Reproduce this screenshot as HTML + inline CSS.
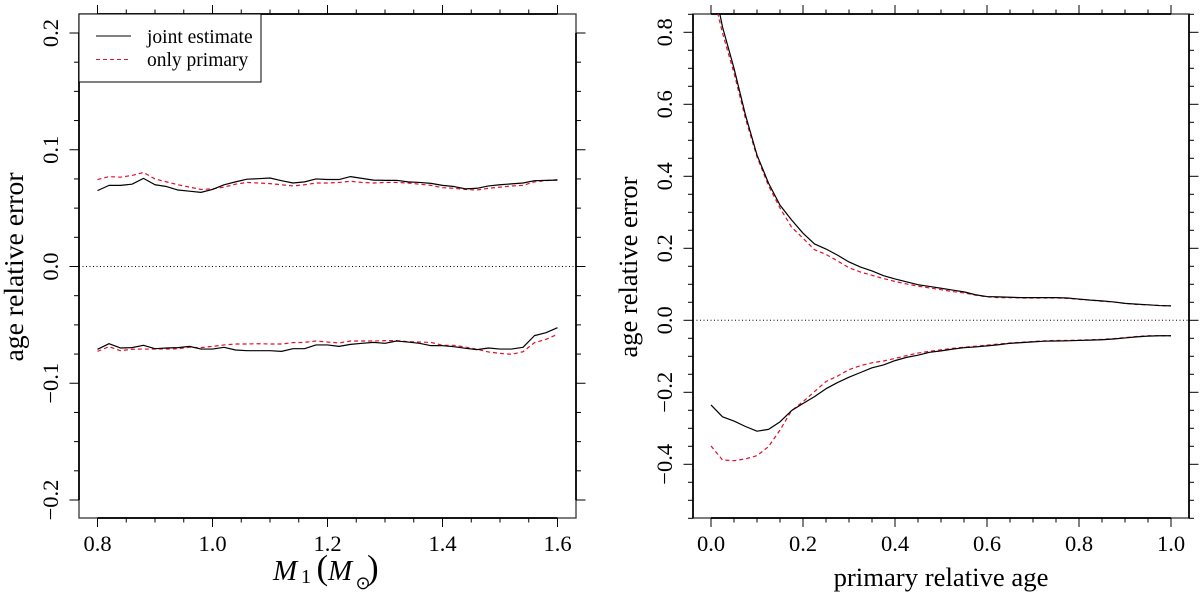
<!DOCTYPE html>
<html>
<head>
<meta charset="utf-8">
<title>Age relative error</title>
<style>
html,body{margin:0;padding:0;background:#fff;}
svg{display:block;}
text{font-family:"Liberation Serif",serif;fill:#000;}
</style>
</head>
<body>
<svg id="chart" xmlns="http://www.w3.org/2000/svg" width="1200" height="594" viewBox="0 0 1200 594">
  <defs>
    <clipPath id="clip-right"><rect x="693" y="14" width="496" height="504"></rect></clipPath>
  </defs>
  <rect width="1200" height="594" fill="#fff"></rect>
  <g id="left-panel"></g>
  <g id="right-panel"></g>

  <g>
    <rect x="79" y="14" width="182" height="68" fill="#fff" stroke="#000" stroke-width="1"></rect>
    <line x1="96" x2="131" y1="36" y2="36" stroke="#000" stroke-width="1"></line>
    <line x1="96" x2="130" y1="59.5" y2="59.5" stroke="#e0102f" stroke-width="1" stroke-dasharray="4 3"></line>
    <text x="147" y="43" font-size="19.5">joint estimate</text>
    <text x="147" y="66" font-size="19.5">only primary</text>
  </g>

  <g>
    <text x="273" y="580" font-size="29" font-style="italic">M</text>
    <text x="301" y="583" font-size="20">1</text>
    <text x="316.5" y="579" font-size="35">(</text>
    <text x="328" y="580" font-size="29" font-style="italic">M</text>
    <text x="363" y="589" font-size="18" text-anchor="middle" style="font-family:'DejaVu Sans',sans-serif">⊙</text>
    <text x="367" y="579" font-size="35">)</text>
  </g>
  <text x="941" y="586" font-size="26.7" text-anchor="middle">primary relative age</text>
  <text transform="translate(23 267) rotate(-90)" font-size="27.7" text-anchor="middle">age relative error</text>
  <text transform="translate(637 267) rotate(-90)" font-size="26.5" text-anchor="middle">age relative error</text>
</svg>

<script>
// ---- left panel data ----
const massValues = [0.80,0.82,0.84,0.86,0.88,0.90,0.92,0.94,0.96,0.98,1.00,1.02,1.04,1.06,1.08,1.10,1.12,1.14,1.16,1.18,1.20,1.22,1.24,1.26,1.28,1.30,1.32,1.34,1.36,1.38,1.40,1.42,1.44,1.46,1.48,1.50,1.52,1.54,1.56,1.58,1.60];
const massJointUpper = [.0650,.0695,.0695,.0705,.0755,.0700,.0685,.0655,.0645,.0635,.0660,.0700,.0725,.0748,.0752,.0758,.0735,.0715,.0725,.0750,.0745,.0745,.0770,.0755,.0740,.0738,.0738,.0725,.0720,.0712,.0695,.0685,.0665,.0670,.0690,.0700,.0708,.0715,.0735,.0738,.0740];
const massPrimaryUpper = [.0745,.0770,.0765,.0780,.0805,.0750,.0725,.0700,.0680,.0660,.0665,.0680,.0705,.0720,.0715,.0710,.0700,.0690,.0700,.0715,.0715,.0720,.0730,.0720,.0715,.0720,.0720,.0715,.0705,.0695,.0675,.0670,.0660,.0655,.0670,.0680,.0690,.0695,.0725,.0735,.0745];
const massJointLower = [-.0709,-.0661,-.0698,-.0695,-.0675,-.0704,-.0698,-.0695,-.0684,-.0707,-.0707,-.0692,-.0715,-.0721,-.0721,-.0721,-.0727,-.0704,-.0704,-.0672,-.0672,-.0684,-.0667,-.0658,-.0650,-.0658,-.0638,-.0647,-.0658,-.0678,-.0678,-.0687,-.0701,-.0712,-.0698,-.0707,-.0707,-.0692,-.0592,-.0567,-.0524];
const massPrimaryLower = [-.0727,-.0687,-.0721,-.0709,-.0707,-.0707,-.0707,-.0704,-.0692,-.0695,-.0684,-.0672,-.0664,-.0664,-.0661,-.0664,-.0664,-.0652,-.0650,-.0638,-.0647,-.0655,-.0638,-.0638,-.0638,-.0635,-.0635,-.0644,-.0647,-.0650,-.0675,-.0675,-.0690,-.0709,-.0732,-.0744,-.0752,-.0730,-.0652,-.0624,-.0581];
const leftXTicks = ["0.8","1.0","1.2","1.4","1.6"];
const leftYTicks = ["0.2","0.1","0.0","\u22120.1","\u22120.2"];
const leftYTickValues = [0.2,0.1,0,-0.1,-0.2];

// ---- right panel data ----
const ageValues = [0,.025,.05,.075,.1,.125,.15,.175,.2,.225,.25,.275,.3,.325,.35,.375,.4,.425,.45,.475,.5,.525,.55,.575,.6,.625,.65,.675,.7,.725,.75,.775,.8,.825,.85,.875,.9,.925,.95,.975,1];
const ageJointUpper = [.97,.815,.70,.57,.459,.381,.32,.279,.242,.212,.198,.181,.162,.148,.137,.124,.115,.107,.099,.094,.089,.084,.079,.071,.066,.065,.064,.063,.063,.063,.063,.062,.059,.056,.054,.051,.047,.045,.043,.041,.04];
const agePrimaryUpper = [.93,.798,.687,.56,.454,.374,.312,.259,.228,.196,.183,.165,.146,.134,.125,.116,.108,.101,.095,.090,.085,.080,.076,.070,.065,.063,.063,.062,.062,.062,.062,.061,.058,.056,.053,.051,.047,.044,.043,.041,.04];
const ageJointLower = [-.235,-.268,-.28,-.295,-.308,-.303,-.282,-.251,-.231,-.212,-.19,-.173,-.158,-.145,-.132,-.124,-.112,-.103,-.097,-.089,-.085,-.080,-.076,-.074,-.071,-.068,-.064,-.062,-.060,-.058,-.0575,-.057,-.056,-.055,-.054,-.052,-.049,-.046,-.044,-.043,-.043];
const agePrimaryLower = [-.349,-.388,-.39,-.385,-.376,-.351,-.305,-.251,-.226,-.198,-.17,-.155,-.137,-.126,-.118,-.113,-.106,-.098,-.091,-.086,-.082,-.078,-.075,-.072,-.069,-.066,-.063,-.061,-.059,-.057,-.056,-.056,-.055,-.054,-.053,-.051,-.048,-.045,-.043,-.043,-.043];
const rightXTicks = ["0.0","0.2","0.4","0.6","0.8","1.0"];
const rightYTicks = ["0.8","0.6","0.4","0.2","0.0","\u22120.2","\u22120.4"];
const rightYTickValues = [0.8,0.6,0.4,0.2,0,-0.2,-0.4];

const NS = "http://www.w3.org/2000/svg";

// axis functions
const leftX = v => 97.5 + (v - 0.8) * 575;
const leftY = v => 266.5 - v * 1167.5;
const rightX = v => 711 + v * 460;
const rightY = v => 320.3 - v * 360;

function svgEl(parent, tag, props) {
  const el = document.createElementNS(NS, tag);
  for (const k in props) el.setAttribute(k, props[k]);
  parent.appendChild(el);
  return el;
}

function drawSeries(parent, xs, ys, xf, yf, stroke, dash, clip) {
  const pts = xs.map((x, i) => xf(x).toFixed(2) + "," + yf(ys[i]).toFixed(2)).join(" ");
  const line = svgEl(parent, "polyline", {points: pts, fill: "none", stroke: stroke, "stroke-width": 1.2, "stroke-linejoin": "round"});
  if (dash) line.setAttribute("stroke-dasharray", dash);
  if (clip) line.setAttribute("clip-path", clip);
  return line;
}

function drawFrame(parent, cfg) {
  const box = svgEl(parent, "rect", {x: cfg.x0, y: cfg.y0, width: cfg.x1 - cfg.x0, height: cfg.y1 - cfg.y0, fill: "none", stroke: "#444", "stroke-width": 1.4});
  
  

  const axes = svgEl(parent, "path", {
    d: "M" + cfg.xf(cfg.xMin) + " " + cfg.y0 + "H" + cfg.xf(cfg.xMax) +
       "M" + cfg.xf(cfg.xMin) + " " + cfg.y1 + "H" + cfg.xf(cfg.xMax) +
       "M" + cfg.x0 + " " + cfg.yf(cfg.yMax) + "V" + cfg.yf(cfg.yMin) +
       "M" + cfg.x1 + " " + cfg.yf(cfg.yMax) + "V" + cfg.yf(cfg.yMin),
    fill: "none", stroke: "#000", "stroke-width": 1.7});
  
  

  // x ticks
  const nx = Math.round((cfg.xMax - cfg.xMin) / cfg.xMinor);
  for (let i = 0; i <= nx; i++) {
    const px = cfg.xf(cfg.xMin + i * cfg.xMinor);
    const major = i % 4 === 0;
    const len = major ? 9 : 4.5;
    const tb = svgEl(parent, "line", {x1: px, x2: px, y1: cfg.y1, y2: cfg.y1 + len, stroke: "#000", "stroke-width": 1});
    
    
    const tt = svgEl(parent, "line", {x1: px, x2: px, y1: cfg.y0, y2: cfg.y0 - len, stroke: "#000", "stroke-width": 1});
    
    
  }
  // y ticks
  const ny = Math.round((cfg.yMax - cfg.yMin) / cfg.yMinor);
  for (let i = 0; i <= ny; i++) {
    const v = cfg.yMin + i * cfg.yMinor;
    const py = cfg.yf(v);
    const major = Math.abs(v / cfg.yMajor - Math.round(v / cfg.yMajor)) < 1e-6;
    const len = major ? 9.5 : 5;
    const tl = svgEl(parent, "line", {x1: cfg.x0, x2: cfg.x0 - len, y1: py, y2: py, stroke: "#000", "stroke-width": 1});
    
    
    const tr = svgEl(parent, "line", {x1: cfg.x1, x2: cfg.x1 + len, y1: py, y2: py, stroke: "#000", "stroke-width": 1});
    
    
  }
  // x labels
  cfg.xLabels.forEach((lab, i) => {
    const t = svgEl(parent, "text", {x: cfg.xf(cfg.xMin + i * 4 * cfg.xMinor), y: 551, "font-size": 22.5, "text-anchor": "middle"});
    t.textContent = lab;
    
    
  });
  // y labels
  cfg.yLabels.forEach((lab, i) => {
    const t = svgEl(parent, "text", {transform: "translate(" + cfg.yLabelX + " " + cfg.yf(cfg.yValues[i]) + ") rotate(-90)", "font-size": 22.5, "text-anchor": "middle"});
    t.textContent = lab;
    
    
  });
  // zero reference line
  const z = svgEl(parent, "line", {x1: cfg.x0, x2: cfg.x1, y1: cfg.yf(0), y2: cfg.yf(0), stroke: "#000", "stroke-width": 1, "stroke-dasharray": "1 2.5"});
  
  
}

const leftPanel = document.getElementById("left-panel");
const rightPanel = document.getElementById("right-panel");

drawFrame(leftPanel, {x0: 79, x1: 576, y0: 14, y1: 518, xf: leftX, yf: leftY,
  xMin: 0.8, xMax: 1.6, xMinor: 0.05, yMin: -0.2, yMax: 0.2, yMinor: 0.025, yMajor: 0.1,
  xLabels: leftXTicks, yLabels: leftYTicks, yValues: leftYTickValues, yLabelX: 58});
drawFrame(rightPanel, {x0: 693, x1: 1189, y0: 14, y1: 518, xf: rightX, yf: rightY,
  xMin: 0, xMax: 1, xMinor: 0.05, yMin: -0.55, yMax: 0.85, yMinor: 0.05, yMajor: 0.2,
  xLabels: rightXTicks, yLabels: rightYTicks, yValues: rightYTickValues, yLabelX: 672});

const RED = "#e0102f";
const DASH = "4 3";

const s1 = drawSeries(leftPanel, massValues, massPrimaryUpper, leftX, leftY, RED, DASH);


const s2 = drawSeries(leftPanel, massValues, massPrimaryLower, leftX, leftY, RED, DASH);


const s3 = drawSeries(leftPanel, massValues, massJointUpper, leftX, leftY, "#000", null);


const s4 = drawSeries(leftPanel, massValues, massJointLower, leftX, leftY, "#000", null);



const s5 = drawSeries(rightPanel, ageValues, agePrimaryUpper, rightX, rightY, RED, DASH, "url(#clip-right)");


const s6 = drawSeries(rightPanel, ageValues, agePrimaryLower, rightX, rightY, RED, DASH, "url(#clip-right)");


const s7 = drawSeries(rightPanel, ageValues, ageJointUpper, rightX, rightY, "#000", null, "url(#clip-right)");


const s8 = drawSeries(rightPanel, ageValues, ageJointLower, rightX, rightY, "#000", null, "url(#clip-right)");


</script>
</body>
</html>
